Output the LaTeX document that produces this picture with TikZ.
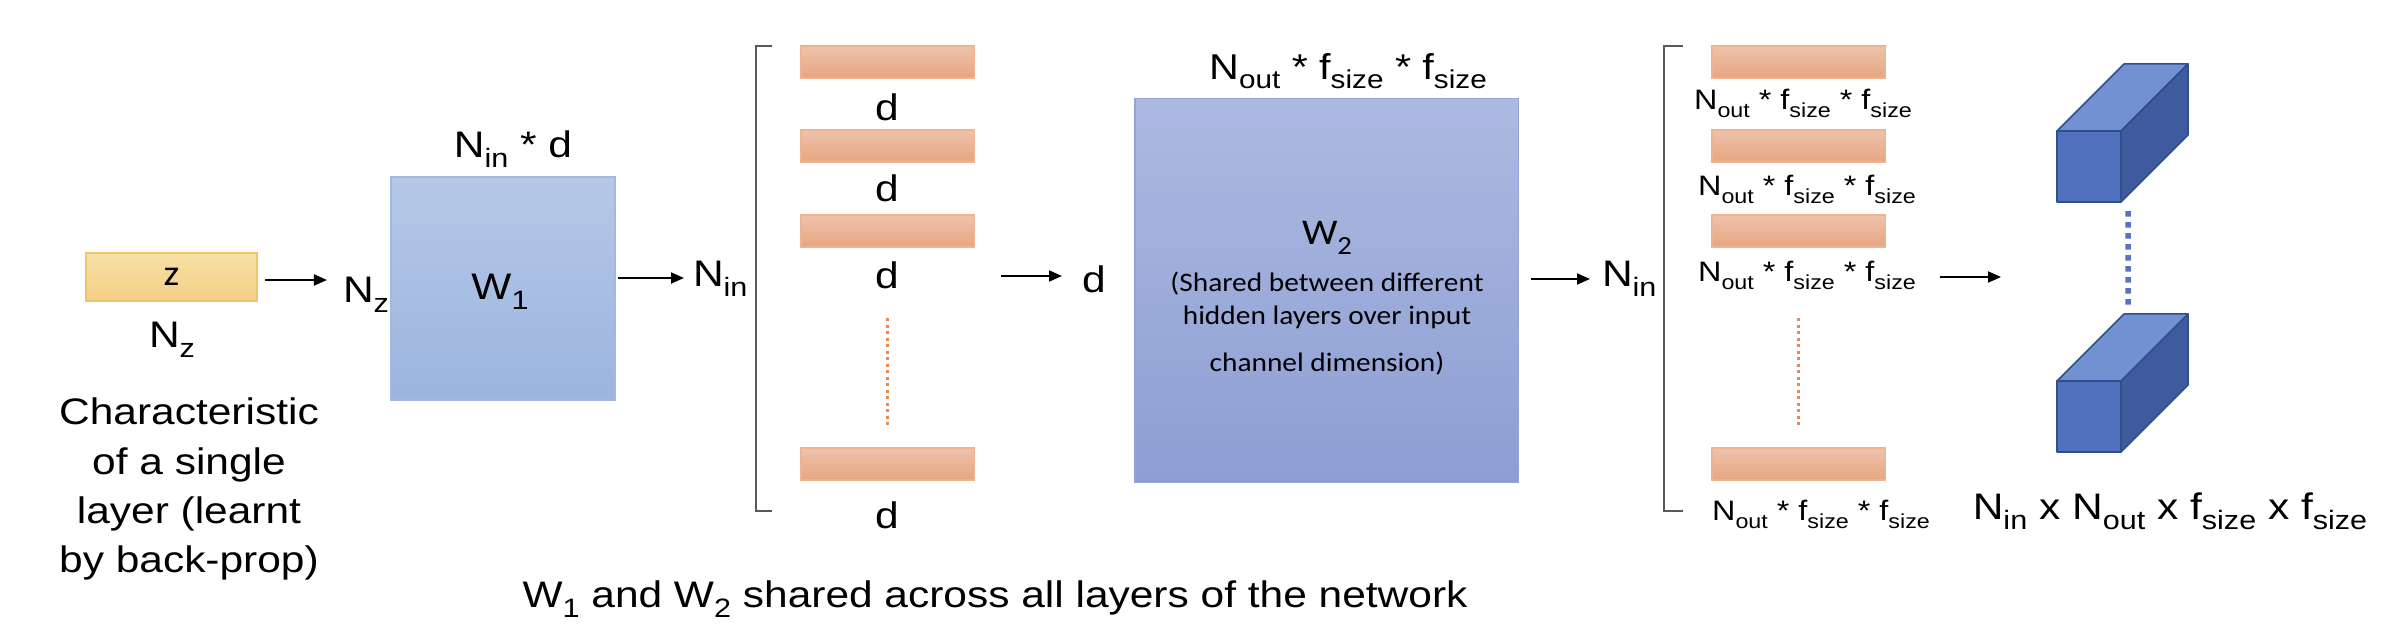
\documentclass[tikz,border=0pt]{standalone}
\usepackage{graphicx}
\usepackage{fontspec}
\setmainfont{Liberation Sans}[FakeStretch=1.15]
\newfontfamily\calfont{Carlito}[FakeStretch=1.1]
\usetikzlibrary{arrows.meta,calc}
\newcommand\sbs[1]{\raisebox{-0.25em}{\scalebox{0.72}{#1}}}
\newcommand\mainsz{\fontsize{10.5pt}{13.94pt}\selectfont}
\definecolor{ztop}{HTML}{F8E0A6}
\definecolor{zbot}{HTML}{F3CF85}
\definecolor{zline}{HTML}{EFC46E}
\definecolor{wonetop}{HTML}{B5C8E8}
\definecolor{wonebot}{HTML}{9CB4DE}
\definecolor{woneline}{HTML}{A3B8E0}
\definecolor{wtwotop}{HTML}{ADB9E0}
\definecolor{wtwobot}{HTML}{8C9ED3}
\definecolor{wtwoline}{HTML}{93A4D6}
\definecolor{bartop}{HTML}{EEC3AB}
\definecolor{barbot}{HTML}{E6A582}
\definecolor{barline}{HTML}{F0B28F}
\definecolor{cfront}{HTML}{5171BF}
\definecolor{ctop}{HTML}{7291D1}
\definecolor{cright}{HTML}{3F5B9D}
\definecolor{cline}{HTML}{2F4E8C}
\definecolor{brk}{HTML}{595959}
\definecolor{odot}{HTML}{E38A55}
\definecolor{bdot}{HTML}{5A72C4}
\tikzset{
  lbl/.style={inner sep=0pt, outer sep=0pt, font=\mainsz},
  smalllbl/.style={inner sep=0pt, outer sep=0pt, font=\fontsize{8pt}{10pt}\selectfont},
  callbl/.style={inner sep=0pt, outer sep=0pt, font=\calfont\fontsize{7.6pt}{9pt}\selectfont},
  arr/.style={-{Triangle[length=0.13cm,width=0.11cm]}, line width=0.018cm, black},
  barbox/.style={draw=barline, top color=bartop, bottom color=barbot, line width=0.012cm,
    minimum width=1.73cm, minimum height=0.32cm, inner sep=0pt, outer sep=0pt, anchor=north west},
  brack/.style={draw=brk, line width=0.02cm},
  orangedots/.style={draw=odot, line width=0.026cm, dash pattern=on 0.03cm off 0.035cm},
  bluedots/.style={draw=bdot, line width=0.055cm, dash pattern=on 0.055cm off 0.055cm},
  cubeface/.style={draw=cline, line width=0.015cm, line join=round},
}
\begin{document}
\begin{tikzpicture}[x=0.01cm,y=-0.01cm]
\useasboundingbox[fill=white] (0,0) rectangle (2394,631);

% z box
\node[draw=zline, top color=ztop, bottom color=zbot, line width=0.012cm,
  minimum width=1.71cm, minimum height=0.48cm, inner sep=0pt, outer sep=0pt]
  (zbox) at (171.5,277) {\calfont\fontsize{10.3pt}{11pt}\selectfont z};
\node[lbl, anchor=base] (nzb) at (172,348) {N\sbs{z}};
\node[lbl, anchor=base] (charac) at (189,425)
  {\begin{tabular}[t]{@{}c@{}}Characteristic\\of a single\\layer (learnt\\by back-prop)\end{tabular}};
\node[lbl, anchor=base west] (nzr) at (343,303) {N\sbs{z}};

% W1
\node[draw=woneline, top color=wonetop, bottom color=wonebot, line width=0.012cm,
  minimum width=2.24cm, minimum height=2.23cm, inner sep=0pt, outer sep=0pt]
  (w1) at (503,288.5) {};
\node[lbl, anchor=base] (w1l) at (500,300) {W\sbs{1}};
\node[lbl, anchor=base] (nind) at (513,158) {N\sbs{in} * d};
\node[lbl, anchor=base west] (nin1) at (693,287) {N\sbs{in}};

% left bracket and bars
\draw[brack] (772,46) -- (756,46) -- (756,511) -- (772,511);
\node[barbox] (b1) at (801,46) {};
\node[barbox] (b2) at (801,130) {};
\node[barbox] (b3) at (801,215) {};
\node[barbox] (b4) at (801,448) {};
\node[lbl, anchor=base] (d1) at (887,121) {d};
\node[lbl, anchor=base] (d2) at (887,202) {d};
\node[lbl, anchor=base] (d3) at (887,289) {d};
\node[lbl, anchor=base] (d4) at (887,529) {d};
\draw[orangedots] ($(b3.south)+(0,71)$) -- ($(b4.north)+(0,-23)$);
\node[lbl, anchor=base west] (dd) at (1082,293) {d};

% W2
\node[draw=wtwoline, top color=wtwotop, bottom color=wtwobot, line width=0.012cm,
  minimum width=3.83cm, minimum height=3.83cm, inner sep=0pt, outer sep=0pt]
  (w2) at (1326.5,290.5) {};
\node[inner sep=0pt, anchor=base, font=\fontsize{10.2pt}{12pt}\selectfont] (w2top) at (1348,80)
  {N\sbs{out} * f\sbs{size} * f\sbs{size}};
\node[inner sep=0pt, anchor=base, font=\calfont\fontsize{10.3pt}{12pt}\selectfont] (w2l) at (1327,245) {W\sbs{2}};
\node[callbl, anchor=base] (sh1) at (1327,292) {(Shared between different};
\node[callbl, anchor=base] (sh2) at (1327,325) {hidden layers over input};
\node[callbl, anchor=base] (sh3) at (1327,372) {channel dimension)};
\node[lbl, anchor=base west] (nin2) at (1602,287) {N\sbs{in}};

% right bracket and bars
\draw[brack] (1683,46) -- (1664,46) -- (1664,511) -- (1683,511);
\node[barbox] (r1) at (1712,46) {};
\node[barbox] (r2) at (1712,130) {};
\node[barbox] (r3) at (1712,215) {};
\node[barbox] (r4) at (1712,448) {};
\node[smalllbl, anchor=base] (rl1) at (1803,110) {N\sbs{out} * f\sbs{size} * f\sbs{size}};
\node[smalllbl, anchor=base] (rl2) at (1807,196) {N\sbs{out} * f\sbs{size} * f\sbs{size}};
\node[smalllbl, anchor=base] (rl3) at (1807,282) {N\sbs{out} * f\sbs{size} * f\sbs{size}};
\node[smalllbl, anchor=base] (rl4) at (1821,521) {N\sbs{out} * f\sbs{size} * f\sbs{size}};
\draw[orangedots] ($(r3.south)+(0,71)$) -- ($(r4.north)+(0,-23)$);

% cubes
\node[cubeface, fill=cfront, minimum width=0.64cm, minimum height=0.71cm, inner sep=0pt, outer sep=0pt, anchor=north west] (c1) at (2057,131) {};
\fill[ctop, cubeface] (c1.north west) -- (c1.north east) -- ++(67,-67) -- ($(c1.north west)+(67,-67)$) -- cycle;
\fill[cright, cubeface] (c1.north east) -- ++(67,-67) -- ++(0,71) -- (c1.south east) -- cycle;
\node[cubeface, fill=cfront, minimum width=0.64cm, minimum height=0.71cm, inner sep=0pt, outer sep=0pt, anchor=north west] (c2) at (2057,381) {};
\fill[ctop, cubeface] (c2.north west) -- (c2.north east) -- ++(67,-67) -- ($(c2.north west)+(67,-67)$) -- cycle;
\fill[cright, cubeface] (c2.north east) -- ++(67,-67) -- ++(0,71) -- (c2.south east) -- cycle;
\draw[bluedots] ($(c1.south east)+(7,9)$) -- ($(c2.north west)+(71,-72)$);
\node[lbl, anchor=base] (dims) at (2170,520)
  {N\sbs{in} x N\sbs{out} x f\sbs{size} x f\sbs{size}};

% bottom caption
\node[lbl, anchor=base] (caption) at (995,608)
  {W\sbs{1} and W\sbs{2} shared across all layers of the network};

% arrows
\draw[arr] ($(zbox.east)+(8,3)$) coordinate (t1) -- ($(t1 -| nzr.west)+(-16,0)$);
\draw[arr] ($(w1.east)+(3,-10.5)$) coordinate (t2) -- ($(t2 -| nin1.west)+(-9,0)$);
\draw[arr] ($(b3.east)+(27,45)$) coordinate (t3) -- ($(t3 -| dd.west)+(-20,0)$);
\draw[arr] ($(w2.east)+(13,-11.5)$) coordinate (t4) -- ($(t4 -| nin2.west)+(-12,0)$);
\draw[arr] ($(r3.east)+(55,46)$) coordinate (t5) -- ($(t5 -| c1.west)+(-56,0)$);
\end{tikzpicture}
\end{document}
